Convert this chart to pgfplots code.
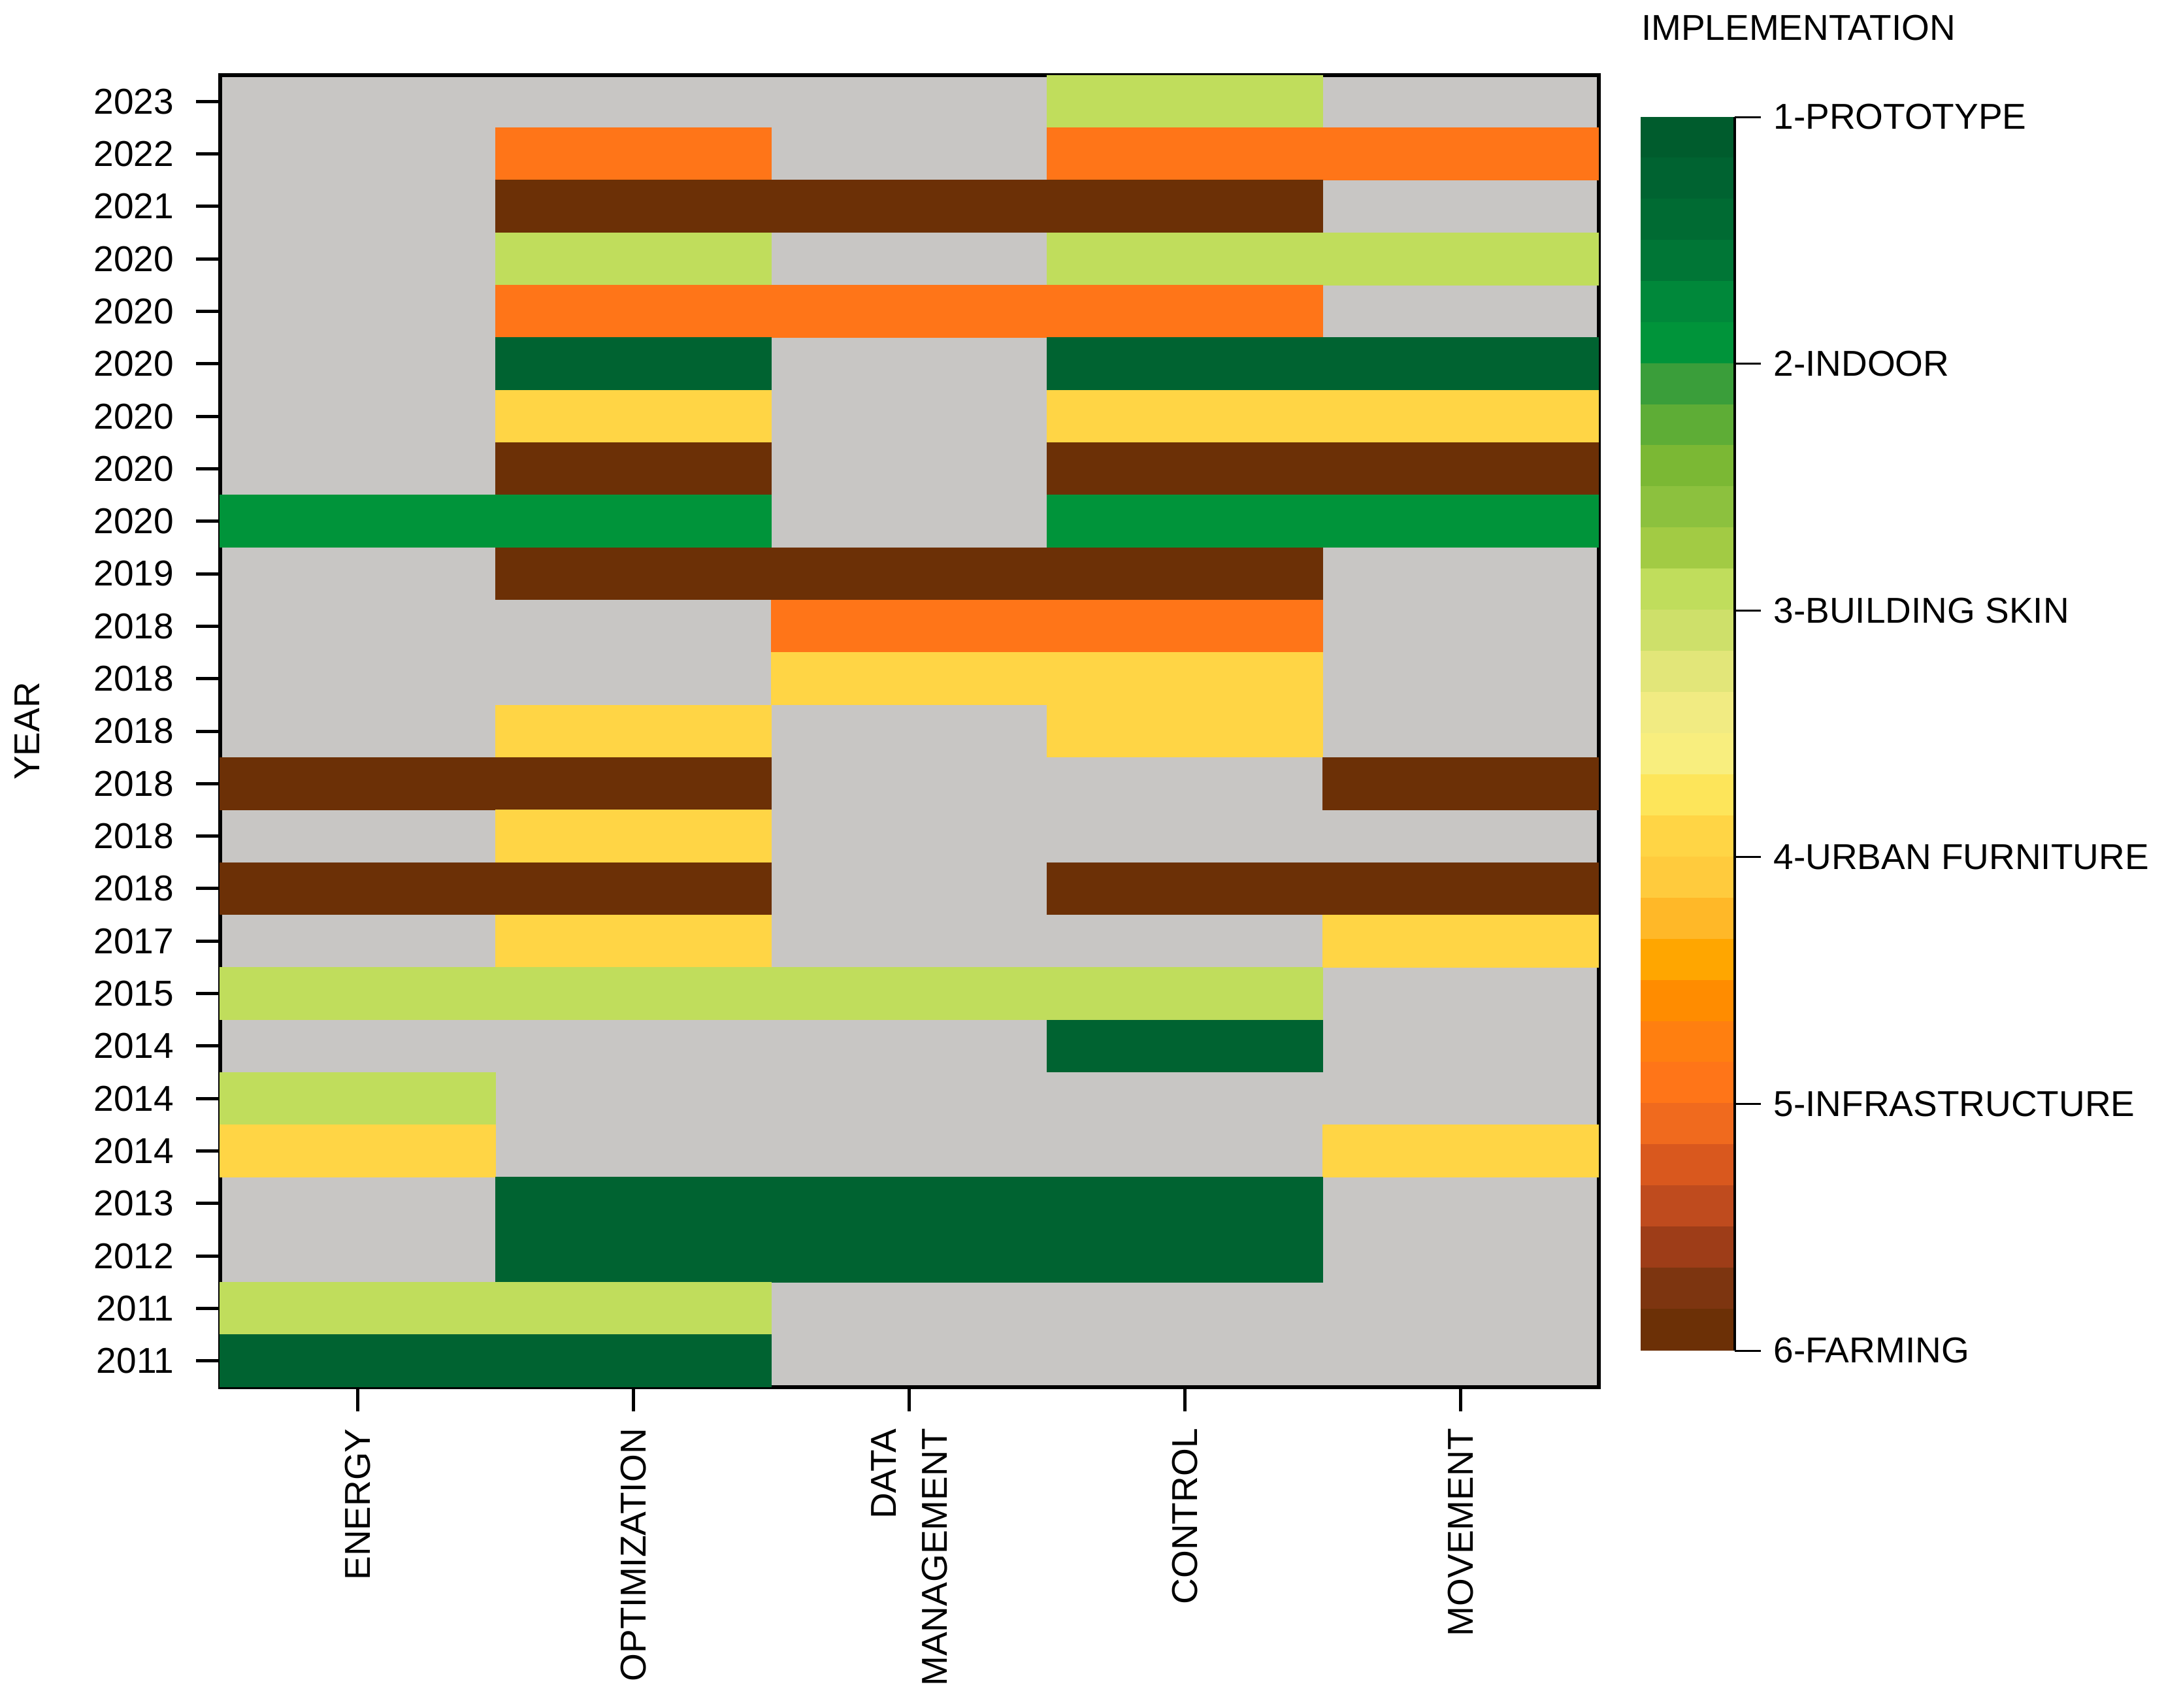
\documentclass[border=0pt]{standalone}
\usepackage{fontspec}
\setmainfont{Liberation Sans}
\usepackage{pgfplots}
\pgfplotsset{compat=1.18}

\definecolor{cellgray}{RGB}{200,198,196}

% one heat-map cell: 1 column x 1 row of the axis below (422pt/5, 401.6pt/25)
\pgfdeclareplotmark{cell}{%
  \pgfpathrectangle{\pgfpoint{-42.3pt}{-8.08pt}}{\pgfpoint{84.6pt}{16.16pt}}%
  \pgfusepath{fill}}

% 30 discrete bands, level 1 (prototype) ... 6 (farming)
\pgfplotsset{
  colormap={impl}{
    rgb255(0pt)=(0,92,45)      rgb255(99pt)=(0,92,45)
    rgb255(100pt)=(0,99,49)    rgb255(199pt)=(0,99,49)
    rgb255(200pt)=(0,107,51)   rgb255(299pt)=(0,107,51)
    rgb255(300pt)=(0,118,54)   rgb255(399pt)=(0,118,54)
    rgb255(400pt)=(0,136,58)   rgb255(499pt)=(0,136,58)
    rgb255(500pt)=(0,148,58)   rgb255(599pt)=(0,148,58)
    rgb255(600pt)=(58,158,58)  rgb255(699pt)=(58,158,58)
    rgb255(700pt)=(94,173,54)  rgb255(799pt)=(94,173,54)
    rgb255(800pt)=(123,184,52) rgb255(899pt)=(123,184,52)
    rgb255(900pt)=(140,193,62) rgb255(999pt)=(140,193,62)
    rgb255(1000pt)=(162,203,68) rgb255(1099pt)=(162,203,68)
    rgb255(1100pt)=(192,221,92) rgb255(1199pt)=(192,221,92)
    rgb255(1200pt)=(206,224,106) rgb255(1299pt)=(206,224,106)
    rgb255(1300pt)=(226,230,121) rgb255(1399pt)=(226,230,121)
    rgb255(1400pt)=(241,235,130) rgb255(1499pt)=(241,235,130)
    rgb255(1500pt)=(248,238,126) rgb255(1599pt)=(248,238,126)
    rgb255(1600pt)=(253,229,90)  rgb255(1699pt)=(253,229,90)
    rgb255(1700pt)=(255,213,69)  rgb255(1799pt)=(255,213,69)
    rgb255(1800pt)=(255,203,61)  rgb255(1899pt)=(255,203,61)
    rgb255(1900pt)=(255,184,40)  rgb255(1999pt)=(255,184,40)
    rgb255(2000pt)=(255,166,0)   rgb255(2099pt)=(255,166,0)
    rgb255(2100pt)=(255,140,0)   rgb255(2199pt)=(255,140,0)
    rgb255(2200pt)=(255,127,16)  rgb255(2299pt)=(255,127,16)
    rgb255(2300pt)=(255,117,24)  rgb255(2399pt)=(255,117,24)
    rgb255(2400pt)=(240,106,30)  rgb255(2499pt)=(240,106,30)
    rgb255(2500pt)=(217,88,30)   rgb255(2599pt)=(217,88,30)
    rgb255(2600pt)=(191,75,30)   rgb255(2699pt)=(191,75,30)
    rgb255(2700pt)=(158,61,24)   rgb255(2799pt)=(158,61,24)
    rgb255(2800pt)=(125,53,16)   rgb255(2899pt)=(125,53,16)
    rgb255(2900pt)=(108,48,6)    rgb255(3000pt)=(108,48,6)
  }
}

\begin{document}
\fontsize{11}{13.2}\selectfont
\begin{tikzpicture}
\begin{axis}[
    name=main,
    scale only axis,
    width=422pt, height=401.6pt,
    xmin=-0.5, xmax=4.5,
    ymin=-0.5, ymax=24.5,
    axis background/.style={fill=cellgray},
    axis line style={line width=1.2pt},
    tick pos=left,
    tick align=outside,
    major tick length=7.3pt,
    every tick/.style={black, line width=1pt},
    xtick={0,...,4},
    xticklabels={ENERGY,OPTIMIZATION,{DATA\\MANAGEMENT},CONTROL,MOVEMENT},
    xticklabel style={rotate=90, anchor=east, align=right,
        font=\fontsize{11}{15.6}\selectfont},
    xticklabel shift=1.5pt,
    ytick={0,...,24},
    yticklabels={2011,2011,2012,2013,2014,2014,2014,2015,2017,2018,2018,2018,
        2018,2018,2018,2019,2020,2020,2020,2020,2020,2020,2021,2022,2023},
    yticklabel shift=3pt,
    ylabel={YEAR},
    every axis y label/.style={at={(axis description cs:-0.14,0.5)},
        rotate=90, anchor=center},
    colormap name=impl,
    point meta min=1, point meta max=6,
    colorbar sampled,
    colorbar style={
        samples=31,
        at={(parent axis.north east)}, anchor=north west,
        xshift=4.3pt, yshift=-12.8pt,
        scale only axis,
        width=28.8pt, height=377.6pt,
        y dir=reverse,
        axis x line=none,
        axis y line*=right,
        axis line style={line width=0.9pt},
        ytick={1,...,6},
        yticklabels={1-PROTOTYPE,2-INDOOR,3-BUILDING SKIN,4-URBAN FURNITURE,
            5-INFRASTRUCTURE,6-FARMING},
        yticklabel pos=right,
        tick align=outside,
        major tick length=8pt,
        every tick/.style={black, line width=0.6pt},
        title={IMPLEMENTATION},
        title style={at={(0,1)}, anchor=south west, xshift=-3.7pt, yshift=13.5pt},
    },
]
% x: 0 ENERGY ... 4 MOVEMENT, y: row from the bottom, c: implementation level
\addplot[scatter, only marks, mark=cell, point meta=explicit,
    scatter/use mapped color={draw=none, fill=mapped color}]
table[x=x, y=y, meta=c] {
x y c
3 24 2.9
1 23 4.9
3 23 4.9
4 23 4.9
1 22 5.9
2 22 5.9
3 22 5.9
1 21 2.9
3 21 2.9
4 21 2.9
1 20 4.9
2 20 4.9
3 20 4.9
1 19 1.2
3 19 1.2
4 19 1.2
1 18 3.9
3 18 3.9
4 18 3.9
1 17 5.9
3 17 5.9
4 17 5.9
0 16 1.9
1 16 1.9
3 16 1.9
4 16 1.9
1 15 5.9
2 15 5.9
3 15 5.9
2 14 4.9
3 14 4.9
2 13 3.9
3 13 3.9
1 12 3.9
3 12 3.9
0 11 5.9
1 11 5.9
4 11 5.9
1 10 3.9
0 9 5.9
1 9 5.9
3 9 5.9
4 9 5.9
1 8 3.9
4 8 3.9
0 7 2.9
1 7 2.9
2 7 2.9
3 7 2.9
3 6 1.2
0 5 2.9
0 4 3.9
4 4 3.9
1 3 1.2
2 3 1.2
3 3 1.2
1 2 1.2
2 2 1.2
3 2 1.2
0 1 2.9
1 1 2.9
0 0 1.2
1 0 1.2
};
\end{axis}
\pgfresetboundingbox
\path[use as bounding box] (-67.4pt,-98.2pt) rectangle (595pt,424.6pt);
\end{tikzpicture}
\end{document}
